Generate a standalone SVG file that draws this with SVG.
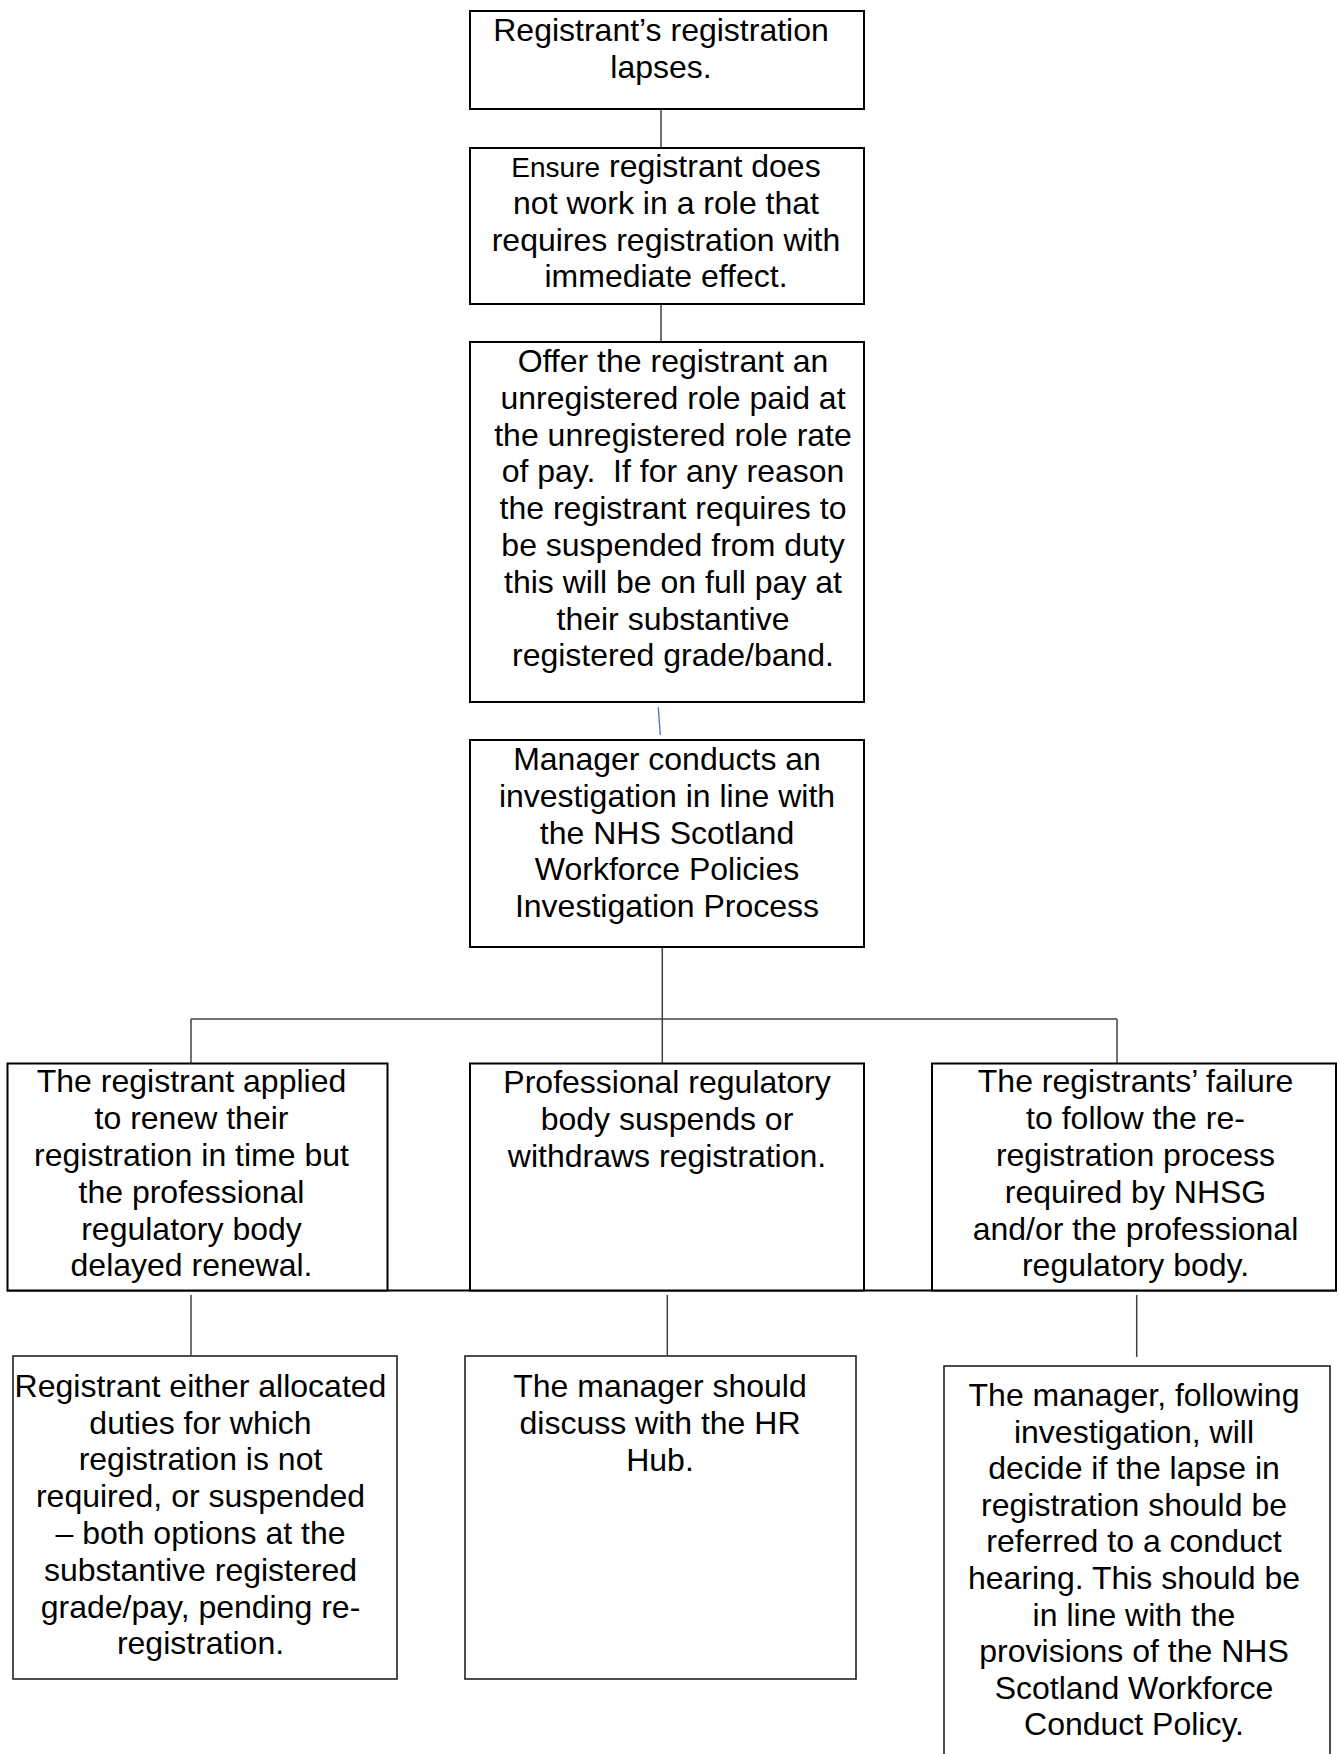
<svg xmlns="http://www.w3.org/2000/svg" width="1340" height="1754" viewBox="0 0 1340 1754">
<style>
.box{fill:#fff;stroke:#000;stroke-width:2}
.box2{fill:#fff;stroke:#222;stroke-width:1.6}
.t{font-family:"Liberation Sans",Arial,sans-serif;font-size:32px;fill:#000;text-anchor:middle}
.c{stroke:#404040;stroke-width:1.5;fill:none}
.cb{stroke:#4472C4;stroke-width:1.3;fill:none}
</style>
<rect width="1340" height="1754" fill="#fff"/>
<g id="connectors">
<line class="c" x1="661" y1="109" x2="661" y2="148"/>
<line class="c" x1="661" y1="304" x2="661" y2="342"/>
<line class="cb" x1="658.3" y1="707" x2="660.3" y2="735"/>
<line class="c" x1="662.3" y1="947" x2="662.3" y2="1063"/>
<line class="c" x1="191" y1="1019" x2="1117" y2="1019"/>
<line class="c" x1="191" y1="1019" x2="191" y2="1063"/>
<line class="c" x1="1117" y1="1019" x2="1117" y2="1063"/>
<line class="c" x1="191" y1="1295" x2="191" y2="1355"/>
<line class="c" x1="667.3" y1="1295" x2="667.3" y2="1355"/>
<line class="c" x1="1136.7" y1="1295" x2="1136.7" y2="1357"/>
<line stroke="#000" stroke-width="2" x1="7" y1="1290.5" x2="1337" y2="1290.5"/>
</g>
<g id="n1">
<rect class="box" x="470" y="11" width="394" height="98"/>
<text class="t"><tspan x="661" y="41">Registrant’s registration</tspan><tspan x="661" y="77.5">lapses.</tspan></text>
</g>
<g id="n2">
<rect class="box" x="470" y="148" width="394" height="156"/>
<text class="t"><tspan x="666" y="177"><tspan font-size="28">Ensure</tspan> registrant does</tspan><tspan x="666" y="213.8">not work in a role that</tspan><tspan x="666" y="250.6">requires registration with</tspan><tspan x="666" y="287.4">immediate effect.</tspan></text>
</g>
<g id="n3">
<rect class="box" x="470" y="342" width="394" height="360"/>
<text class="t"><tspan x="673" y="372">Offer the registrant an</tspan><tspan x="673" y="408.8">unregistered role paid at</tspan><tspan x="673" y="445.6">the unregistered role rate</tspan><tspan x="673" y="482.4">of pay.&#160; If for any reason</tspan><tspan x="673" y="519.2">the registrant requires to</tspan><tspan x="673" y="556">be suspended from duty</tspan><tspan x="673" y="592.8">this will be on full pay at</tspan><tspan x="673" y="629.6">their substantive</tspan><tspan x="673" y="666.4">registered grade/band.</tspan></text>
</g>
<g id="n4">
<rect class="box" x="470" y="740" width="394" height="207"/>
<text class="t"><tspan x="667" y="770">Manager conducts an</tspan><tspan x="667" y="806.8">investigation in line with</tspan><tspan x="667" y="843.6">the NHS Scotland</tspan><tspan x="667" y="880.4">Workforce Policies</tspan><tspan x="667" y="917.2">Investigation Process</tspan></text>
</g>
<g id="n5">
<rect class="box" x="7.5" y="1063.5" width="380" height="227"/>
<text class="t"><tspan x="191.5" y="1092.3">The registrant applied</tspan><tspan x="191.5" y="1129.1">to renew their</tspan><tspan x="191.5" y="1165.9">registration in time but</tspan><tspan x="191.5" y="1202.7">the professional</tspan><tspan x="191.5" y="1239.5">regulatory body</tspan><tspan x="191.5" y="1276.3">delayed renewal.</tspan></text>
</g>
<g id="n6">
<rect class="box" x="470" y="1063.5" width="394" height="227"/>
<text class="t"><tspan x="667" y="1093">Professional regulatory</tspan><tspan x="667" y="1129.8">body suspends or</tspan><tspan x="667" y="1166.6">withdraws registration.</tspan></text>
</g>
<g id="n7">
<rect class="box" x="932" y="1063.5" width="404" height="227"/>
<text class="t"><tspan x="1135.5" y="1092.3">The registrants’ failure</tspan><tspan x="1135.5" y="1129.1">to follow the re-</tspan><tspan x="1135.5" y="1165.9">registration process</tspan><tspan x="1135.5" y="1202.7">required by NHSG</tspan><tspan x="1135.5" y="1239.5">and/or the professional</tspan><tspan x="1135.5" y="1276.3">regulatory body.</tspan></text>
</g>
<g id="n8">
<rect class="box2" x="13" y="1356" width="384" height="323"/>
<text class="t"><tspan x="200.5" y="1396.7">Registrant either allocated</tspan><tspan x="200.5" y="1433.5">duties for which</tspan><tspan x="200.5" y="1470.3">registration is not</tspan><tspan x="200.5" y="1507.1">required, or suspended</tspan><tspan x="200.5" y="1543.9">– both options at the</tspan><tspan x="200.5" y="1580.7">substantive registered</tspan><tspan x="200.5" y="1617.5">grade/pay, pending re-</tspan><tspan x="200.5" y="1654.3">registration.</tspan></text>
</g>
<g id="n9">
<rect class="box2" x="465" y="1356" width="391" height="323"/>
<text class="t"><tspan x="660" y="1397">The manager should</tspan><tspan x="660" y="1433.8">discuss with the HR</tspan><tspan x="660" y="1470.6">Hub.</tspan></text>
</g>
<g id="n10">
<rect class="box2" x="944" y="1366" width="386" height="420"/>
<text class="t"><tspan x="1134" y="1406">The manager, following</tspan><tspan x="1134" y="1442.6">investigation, will</tspan><tspan x="1134" y="1479.2">decide if the lapse in</tspan><tspan x="1134" y="1515.8">registration should be</tspan><tspan x="1134" y="1552.4">referred to a conduct</tspan><tspan x="1134" y="1589">hearing. This should be</tspan><tspan x="1134" y="1625.6">in line with the</tspan><tspan x="1134" y="1662.2">provisions of the NHS</tspan><tspan x="1134" y="1698.8">Scotland Workforce</tspan><tspan x="1134" y="1735.4">Conduct Policy.</tspan></text>
</g>
</svg>
